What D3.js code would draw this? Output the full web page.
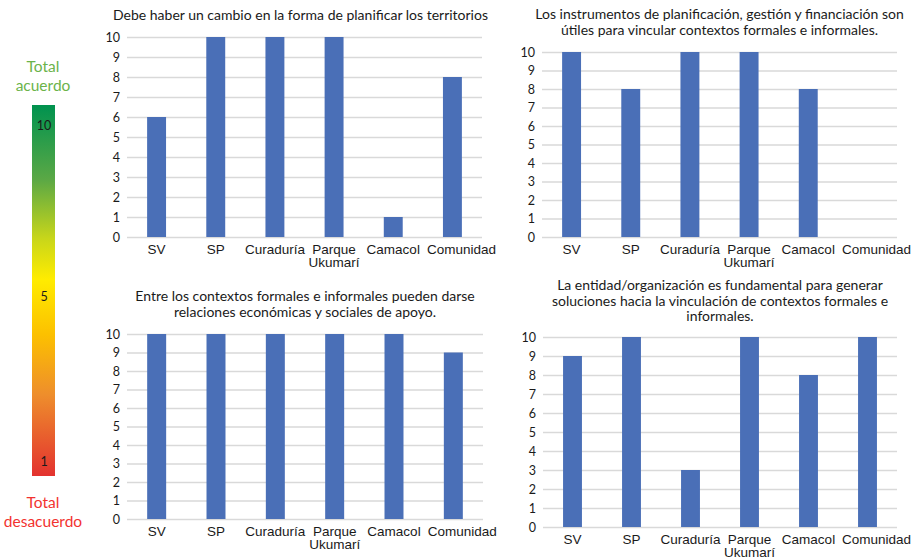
<!DOCTYPE html>
<html>
<head>
<meta charset="utf-8">
<script src="https://cdn.jsdelivr.net/npm/d3@7"></script>
<style>
  body { margin: 0; background: #fff; }
  svg { display: block; font-family: Lato, "Open Sans", sans-serif; }
</style>
</head>
<body>
<div id="chart"></div>
<script>
const categories = ["SV", "SP", "Curaduría", "Parque\nUkumarí", "Camacol", "Comunidad"];
const yTicks = [0, 1, 2, 3, 4, 5, 6, 7, 8, 9, 10];

const cambioPlanificar = [6, 10, 10, 10, 1, 8];
const instrumentosUtiles = [10, 8, 10, 10, 8, null];
const relacionesApoyo = [10, 10, 10, 10, 10, 9];
const entidadFundamental = [9, 10, 3, 10, 8, 10];

const titles = [
  ["Debe haber un cambio en la forma de planificar los territorios"],
  ["Los instrumentos de planificación, gestión y financiación son", "útiles para vincular contextos formales e informales."],
  ["Entre los contextos formales e informales pueden darse", "relaciones económicas y sociales de apoyo."],
  ["La entidad/organización es fundamental para generar", "soluciones hacia la vinculación de contextos formales e", "informales."]
];

const legendStops = [
  { offset: 0, color: "#00924f" },
  { offset: 0.2, color: "#5aa845" },
  { offset: 0.36, color: "#c8d61a" },
  { offset: 0.47, color: "#ffec00" },
  { offset: 0.62, color: "#fcc000" },
  { offset: 0.78, color: "#ee8e2c" },
  { offset: 1, color: "#e3322f" }
];
const legendTicks = [1, 5, 10];

const width = 919, height = 559;
const svg = d3.select("#chart").append("svg")
  .attr("width", width)
  .attr("height", height);

// panel frames: plot area box and title positions
const panels = [
  { values: cambioPlanificar, title: titles[0], left: 127, right: 482, top: 37, bottom: 237, titleY: 20, titleShift: -4 },
  { values: instrumentosUtiles, title: titles[1], left: 542, right: 897, top: 52, bottom: 237, titleY: 19, titleShift: 0 },
  { values: relacionesApoyo, title: titles[2], left: 127, right: 483, top: 334, bottom: 519, titleY: 301, titleShift: 0 },
  { values: entidadFundamental, title: titles[3], left: 543, right: 897, top: 337, bottom: 527, titleY: 290, titleShift: 0 }
];

panels.forEach(p => {
  const g = svg.append("g");

  const x = d3.scaleBand()
    .domain(categories)
    .range([p.left, p.right])
    .paddingInner(0.68)
    .paddingOuter(0.34);

  const y = d3.scaleLinear()
    .domain([0, 10])
    .range([p.bottom, p.top]);

  // title
  const cx = (p.left + p.right) / 2 + p.titleShift;
  const t = g.append("text")
    .attr("text-anchor", "middle")
    .attr("font-size", "14px")
    .attr("fill", "#1a1a1a");
  p.title.forEach((line, i) => {
    t.append("tspan").attr("x", cx).attr("y", p.titleY + i * 15.5).text(line);
  });

  // gridlines + y labels
  const yAxis = g.append("g")
    .attr("transform", `translate(${p.left},0)`)
    .call(d3.axisLeft(y).tickValues(yTicks).tickSize(-(p.right - p.left)).tickPadding(7));
  yAxis.select(".domain").remove();
  yAxis.selectAll(".tick line").attr("stroke", "#d9d9d9").attr("stroke-width", 1.5);
  yAxis.selectAll(".tick text")
    .attr("font-size", "12.5px")
    .attr("fill", "#1a1a1a")
    .attr("font-family", "Lato, sans-serif");

  // bars
  g.append("g").selectAll("rect")
    .data(categories.map((c, i) => ({ cat: c, value: p.values[i] })).filter(d => d.value != null))
    .join("rect")
    .attr("x", d => x(d.cat))
    .attr("width", x.bandwidth())
    .attr("y", d => y(d.value))
    .attr("height", d => y(0) - y(d.value))
    .attr("fill", "#4a6fb7");

  // category labels (last one nudged right like the original)
  const xAxis = g.append("g")
    .attr("transform", `translate(0,${p.bottom})`)
    .call(d3.axisBottom(x).tickSize(0).tickFormat(""));
  xAxis.select(".domain").remove();
  xAxis.selectAll(".tick").each(function (d, idx) {
    const lines = d.split("\n");
    const txt = d3.select(this).append("text")
      .attr("text-anchor", "middle")
      .attr("font-size", "13.5px")
      .attr("fill", "#1a1a1a");
    lines.forEach((line, i) => {
      txt.append("tspan")
        .attr("x", idx === categories.length - 1 ? 9 : 0)
        .attr("y", 16.5 + i * 13.5)
        .text(line);
    });
  });
});

// colour legend
const defs = svg.append("defs");
const grad = defs.append("linearGradient")
  .attr("id", "agree")
  .attr("x1", 0).attr("y1", 0).attr("x2", 0).attr("y2", 1);
grad.selectAll("stop")
  .data(legendStops)
  .join("stop")
  .attr("offset", d => d.offset)
  .attr("stop-color", d => d.color);

// the original places 5 at the yellow midpoint, not linearly
const legendY = d3.scaleLinear().domain([1, 5, 10]).range([462, 297, 126]);

svg.append("rect")
  .attr("x", 32).attr("y", 105)
  .attr("width", 23).attr("height", 371)
  .attr("fill", "url(#agree)");

svg.append("g").selectAll("text")
  .data(legendTicks)
  .join("text")
  .attr("x", 44)
  .attr("y", d => legendY(d))
  .attr("dy", "0.35em")
  .attr("text-anchor", "middle")
  .attr("font-size", "12.5px")
  .attr("fill", "#1a1a1a")
  .text(d => d);

const topLabel = svg.append("text")
  .attr("text-anchor", "middle")
  .attr("font-size", "15.5px")
  .attr("fill", "#6bb34a");
topLabel.append("tspan").attr("x", 43).attr("y", 72).text("Total");
topLabel.append("tspan").attr("x", 43).attr("y", 91).text("acuerdo");

const bottomLabel = svg.append("text")
  .attr("text-anchor", "middle")
  .attr("font-size", "15.5px")
  .attr("fill", "#f2322f");
bottomLabel.append("tspan").attr("x", 43).attr("y", 508).text("Total");
bottomLabel.append("tspan").attr("x", 43).attr("y", 527).text("desacuerdo");
</script>
</body>
</html>
